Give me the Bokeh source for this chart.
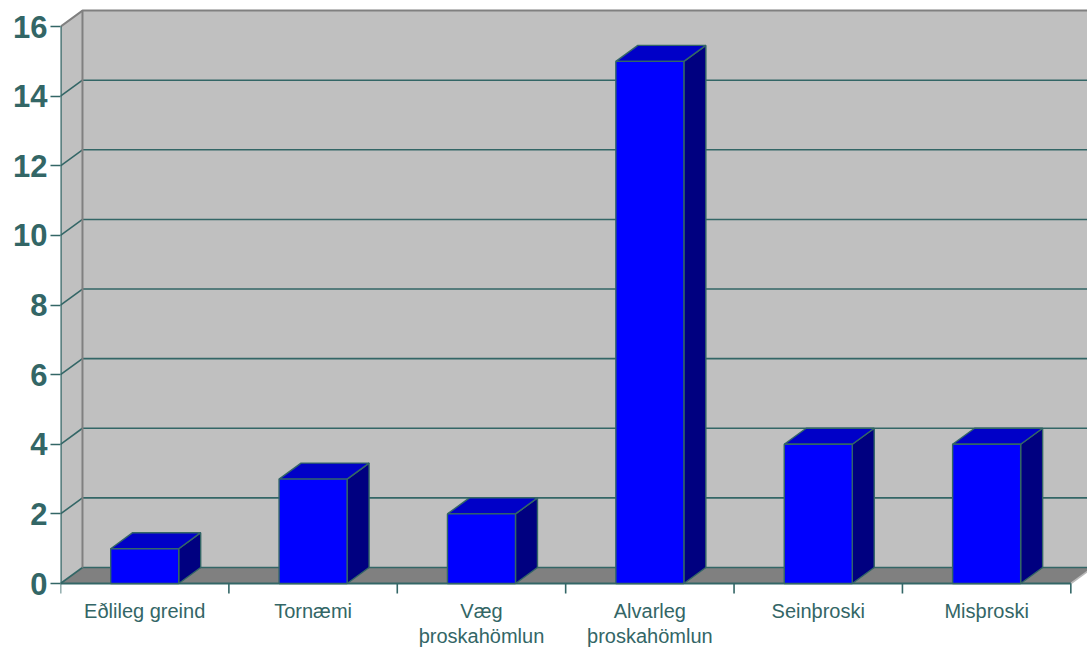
from bokeh.plotting import figure
from bokeh.models import Range1d, FixedTicker, LinearAxis
from bokeh.core.properties import value
from bokeh.embed import file_html
from bokeh.resources import INLINE

# Data
categories = ["Eðlileg greind", "Tornæmi", "Væg\nþroskahömlun",
              "Alvarleg\nþroskahömlun", "Seinþroski", "Misþroski"]
counts = [1, 3, 2, 15, 4, 4]
y_ticks = [0, 2, 4, 6, 8, 10, 12, 14, 16]

# Style
TEAL = "#336666"
WALL = "#C0C0C0"
FLOOR = "#808080"
EDGE_GRAY = "#808080"
FRONT = "#0000FF"
TOP = "#0000C8"
SIDE = "#000080"

PX_PER_UNIT = 34.81          # vertical pixels per count
DX = 0.1306                  # depth of the box along x (category units)
DY = 0.46                    # depth of the box along y (value units)
HALF = 0.202                 # half width of a bar's front face
TICK = 10 / PX_PER_UNIT      # length of the category boundary ticks
n = len(categories)
YMAX = y_ticks[-1]
XEND = 6.099
YEND = 16.52
YSTART = -66 / PX_PER_UNIT   # room under the floor for the category names

p = figure(width=1087, height=649, x_range=Range1d(0, XEND), y_range=Range1d(YSTART, YEND),
           output_backend="svg", toolbar_location=None,
           x_axis_type=None, y_axis_type=None,
           min_border_left=60, min_border_right=0, min_border_top=8, min_border_bottom=0)
p.background_fill_color = "white"
p.border_fill_color = "white"
p.outline_line_color = None

# Back wall and side wall
p.patch([DX, XEND + 1, XEND + 1, DX], [DY, DY, YMAX + DY, YMAX + DY],
        fill_color=WALL, line_color=None)
p.patch([0, DX, DX, 0], [0, DY, YMAX + DY, YMAX], fill_color=WALL, line_color=None)
# Floor
p.patch([0, n, n + DX, DX], [0, 0, DY, DY], fill_color=FLOOR, line_color=None)

# Gridlines on the back wall and the side wall
grid = [t for t in y_ticks if t < YMAX]
p.segment(x0=[DX] * len(grid), y0=[t + DY for t in grid],
          x1=[XEND + 1] * len(grid), y1=[t + DY for t in grid],
          line_color=TEAL, line_width=1.6)
p.segment(x0=[0] * len(grid), y0=grid, x1=[DX] * len(grid), y1=[t + DY for t in grid],
          line_color=TEAL, line_width=1.6)

# Wall outline
p.line([0, DX, XEND + 1], [YMAX, YMAX + DY, YMAX + DY], line_color=EDGE_GRAY, line_width=2)
p.line([DX, DX], [DY, YMAX + DY], line_color=EDGE_GRAY, line_width=2)
# Floor right edge
p.line([n, n + DX], [0, DY], line_color="#B8B8B8", line_width=1.6)
# Front axis lines
p.line([0, 0], [0, YMAX], line_color=TEAL, line_width=2.4)
p.line([0, n], [0, 0], line_color=TEAL, line_width=1.8)

# Category boundary ticks
bounds = list(range(n + 1))
p.segment(x0=bounds, y0=[0] * len(bounds), x1=bounds, y1=[-TICK] * len(bounds),
          line_color=TEAL, line_width=1.6)

# Bars
for i, v in enumerate(counts):
    c = i + 0.5
    l, r = c - HALF, c + HALF
    p.patch([r, r + DX, r + DX, r], [0, DY, v + DY, v],
            fill_color=SIDE, line_color=TEAL, line_width=1.4)
    p.patch([l, r, r + DX, l + DX], [v, v, v + DY, v + DY],
            fill_color=TOP, line_color=TEAL, line_width=1.4)
    p.quad(left=l, right=r, bottom=0, top=v,
           fill_color=FRONT, line_color=TEAL, line_width=1.4)

# Category names (one or two lines each) under the floor
centers = [i + 0.5 for i in range(n)]
first = [c.split("\n")[0] for c in categories]
second = [c.split("\n")[1] if "\n" in c else "" for c in categories]
for lines, off in ((first, 27), (second, 52)):
    p.text(x=centers, y=[0] * n, text=lines, y_offset=off,
           text_align="center", text_baseline="alphabetic",
           text_font=value("Liberation Sans"), text_font_size="20px", text_color=TEAL)

# Value axis
yaxis = LinearAxis(ticker=FixedTicker(ticks=y_ticks))
yaxis.axis_line_color = None
yaxis.major_tick_line_color = TEAL
yaxis.major_tick_line_width = 1.6
yaxis.major_tick_in = 0
yaxis.major_tick_out = 10
yaxis.minor_tick_line_color = None
yaxis.major_label_standoff = 3
yaxis.major_label_text_font = "Liberation Sans"
yaxis.major_label_text_font_style = "bold"
yaxis.major_label_text_font_size = "31px"
yaxis.major_label_text_color = TEAL
p.add_layout(yaxis, "left")

open("out.html", "w").write(file_html(p, INLINE))
